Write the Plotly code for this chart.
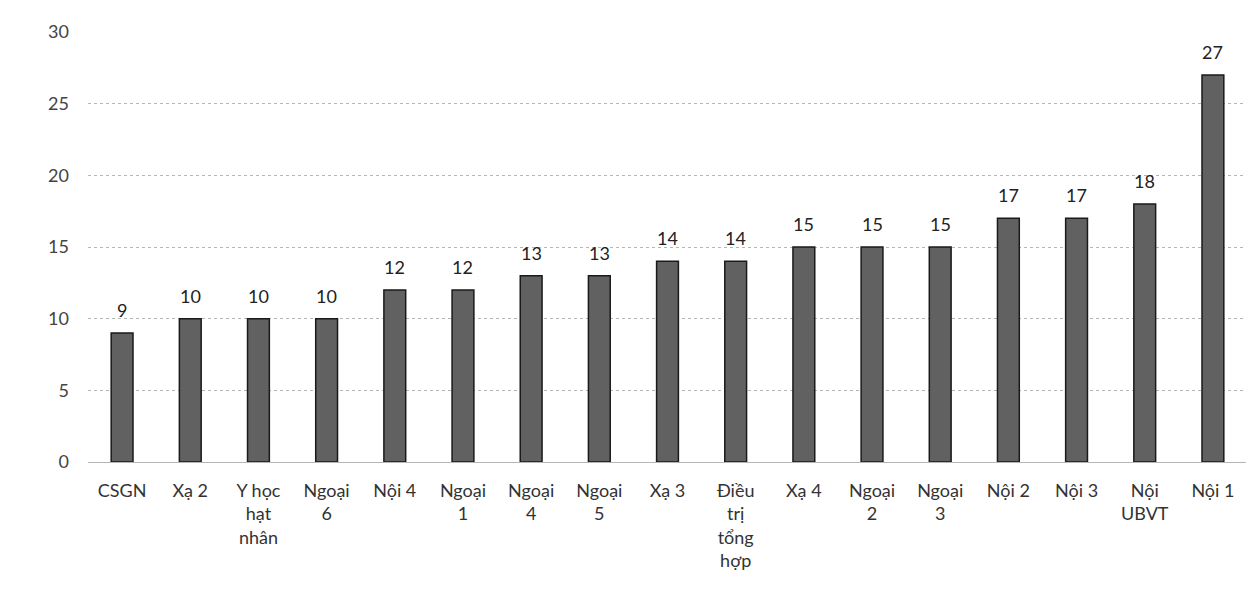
import plotly.graph_objects as go

departments = [
    "CSGN", "Xạ 2", "Y học<br>hạt<br>nhân", "Ngoại<br>6", "Nội 4",
    "Ngoại<br>1", "Ngoại<br>4", "Ngoại<br>5", "Xạ 3",
    "Điều<br>trị<br>tổng<br>hợp", "Xạ 4", "Ngoại<br>2", "Ngoại<br>3",
    "Nội 2", "Nội 3", "Nội<br>UBVT", "Nội 1",
]
counts = [9, 10, 10, 10, 12, 12, 13, 13, 14, 14, 15, 15, 15, 17, 17, 18, 27]
y_ticks = [0, 5, 10, 15, 20, 25, 30]

FONT = "Lato, 'Open Sans', sans-serif"

fig = go.Figure(
    go.Bar(
        x=departments,
        y=counts,
        marker=dict(color="#616161", line=dict(color="#1a1a1a", width=1.5)),
        width=0.32,
        hoverinfo="x+y",
    )
)

# value labels sitting a little above each bar
for dept, v in zip(departments, counts):
    fig.add_annotation(
        x=dept, y=v, text=str(v), showarrow=False,
        yanchor="bottom", yshift=10,
        font=dict(size=18, color="#222222", family=FONT),
    )

fig.update_layout(
    width=1254,
    height=614,
    margin=dict(l=80, r=15, t=18, b=160),
    plot_bgcolor="white",
    paper_bgcolor="white",
    showlegend=False,
    font=dict(family=FONT, size=18, color="#333333"),
    xaxis=dict(
        tickfont=dict(size=18, color="#333333"),
        showgrid=False,
        showline=False,
        ticks="",
        tickangle=0,
        ticklabelstandoff=16,
    ),
    yaxis=dict(
        range=[0, 30],
        tickvals=y_ticks,
        tickfont=dict(size=18, color="#444444"),
        showgrid=True,
        gridcolor="#b5b5b5",
        griddash="dot",
        gridwidth=1,
        zeroline=True,
        zerolinecolor="#b5b5b5",
        zerolinewidth=1,
        ticks="",
        ticklabelstandoff=18,
    ),
)

fig.write_html("out.html")
